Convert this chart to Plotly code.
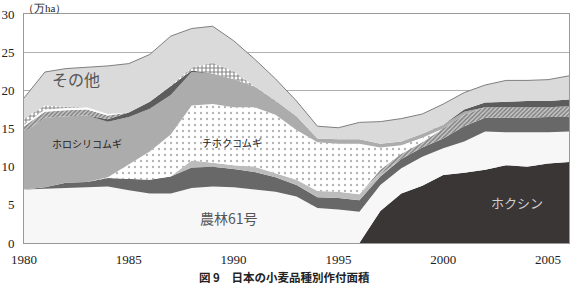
import plotly.graph_objects as go

years = list(range(1980, 2007))

hokushin   = [0]*17 + [4.2, 6.5, 7.5, 8.9, 9.2, 9.6, 10.2, 10.0, 10.4, 10.6]
norin61    = [7.0, 7.1, 7.2, 7.3, 7.4, 6.9, 6.5, 6.5, 7.2, 7.4, 7.3, 7.0, 6.7, 6.1, 4.6, 4.4, 4.1,
              3.4, 3.3, 3.8, 3.5, 4.1, 5.0, 4.3, 4.5, 4.1, 4.0]
dark_a     = [0.0, 0.2, 0.7, 0.7, 1.1, 1.5, 1.8, 2.2, 2.7, 2.6, 2.4, 2.3, 1.9, 1.5, 1.4, 1.5, 1.5,
              1.1, 1.2, 1.2, 1.3, 2.0, 1.8, 1.9, 1.9, 2.0, 1.9]
light_b    = [0, 0, 0, 0, 0, 0, 0, 0, 0.9, 0.5, 0.5, 0.7, 0.6, 0.7, 0.8, 0.8, 0.8,
              0.3, 0, 0, 0, 0, 0, 0, 0, 0, 0]
hatch_late = [0]*17 + [0.6, 0.7, 0.7, 1.3, 1.5, 1.4, 1.4, 1.4, 1.3, 1.4]
chihoku    = [0, 0, 0, 0, 0.1, 1.9, 3.7, 5.5, 7.2, 7.7, 7.6, 7.8, 7.6, 6.5, 6.4, 6.3, 6.6,
              2.9, 1.1, 0.6, 0, 0, 0, 0, 0, 0, 0]
horoshiri  = [7.5, 9.1, 8.7, 8.7, 7.3, 6.2, 5.6, 5.2, 4.4, 4.0, 3.7, 2.7, 1.8, 1.8, 0.5, 0.6, 0.6,
              0.5, 0.5, 0.5, 0.5, 0.4, 0, 0, 0, 0, 0]
dark_c     = [0, 0, 0, 0, 0.3, 0.6, 0.9, 1.2, 0.2, 0, 0, 0, 0, 0, 0, 0, 0,
              0, 0, 0, 0, 0.3, 0.6, 0.7, 0.8, 0.8, 0.9]
hatch_early = [0.8, 0.8, 0.8, 0.8, 0.5] + [0]*22
white_band  = [0.2, 0.3, 0.3, 0.3, 0.2] + [0]*22
cross       = [0.8, 0.5, 0.15, 0, 0, 0, 0, 0, 0.4, 1.4, 1.0, 0.1] + [0]*15
sonota      = [2.7, 4.4, 5.0, 5.2, 6.3, 6.4, 6.2, 6.5, 5.1, 4.8, 4.0, 3.5, 2.9, 2.0, 1.6, 1.5, 2.2,
               2.9, 3.0, 2.6, 2.7, 2.2, 2.3, 2.8, 2.7, 2.8, 3.1]

fig = go.Figure()

def add(name, vals, color=None, pattern=None, line_color=None, line_width=0):
    kw = {}
    if pattern is not None:
        kw["fillpattern"] = pattern
        kw["fillcolor"] = pattern.get("bgcolor", "white")
    else:
        kw["fillcolor"] = color
    fig.add_trace(go.Scatter(
        x=years, y=vals, name=name, mode="lines", stackgroup="one",
        line=dict(width=line_width, color=line_color or "rgba(0,0,0,0)"),
        hoverinfo="x+y+name", **kw))

add("ホクシン", hokushin, "#3b3636")
add("農林61号", norin61, "#f7f7f7")
add("品種A", dark_a, "#686868")
add("品種B", light_b, "#bcbcbc")
add("品種C", hatch_late, pattern=dict(shape="/", fgcolor="#3a3a3a", bgcolor="#c8c8c8", size=3, solidity=0.5))
add("チホクコムギ", chihoku, pattern=dict(shape=".", fgcolor="#6a6a6a", bgcolor="#ffffff", size=6, solidity=0.12))
add("ホロシリコムギ", horoshiri, "#acacac")
add("品種D", dark_c, "#5c5c5c")
add("品種E", hatch_early, pattern=dict(shape="/", fgcolor="#3a3a3a", bgcolor="#c8c8c8", size=3, solidity=0.5))
add("品種F", white_band, "#fbfbfb")
add("品種G", cross, pattern=dict(shape="+", fgcolor="#111111", bgcolor="#ffffff", size=4, solidity=0.5))
add("その他", sonota, "#dadada", line_color="#7f7f7f", line_width=1)

serif = "Liberation Serif, Times New Roman, serif"
jp = "Noto Sans CJK JP"

fig.update_layout(
    width=571, height=284,
    margin=dict(l=22, r=1, t=14, b=41),
    paper_bgcolor="white", plot_bgcolor="white",
    showlegend=False,
    xaxis=dict(range=[1980, 2006], tickmode="array", tickvals=[1980, 1985, 1990, 1995, 2000, 2005],
               showgrid=False, zeroline=False, showline=True, linecolor="#999999", linewidth=1,
               mirror=True, ticks="", tickfont=dict(family=serif, size=13, color="#222"),
               ticklabelstandoff=4),
    yaxis=dict(range=[0, 30], dtick=5, showgrid=True, gridcolor="#b0b0b0", gridwidth=1,
               zeroline=False, showline=True, linecolor="#999999", linewidth=1, mirror=True,
               ticks="", tickfont=dict(family=serif, size=13, color="#222"),
               ticklabelstandoff=6),
)

ann = [
    dict(x=1982.5, y=21.5, text="その他", font=dict(family=jp, size=16, color="#555555")),
    dict(x=1983.0, y=13.0, text="ホロシリコムギ", font=dict(family=jp, size=10, color="#222222")),
    dict(x=1989.9, y=13.2, text="チホクコムギ", font=dict(family=jp, size=10, color="#222222")),
    dict(x=1989.8, y=3.3, text="農林61号", font=dict(family=jp, size=14, color="#555555")),
    dict(x=2003.5, y=5.3, text="ホクシン", font=dict(family=jp, size=13, color="#d0d0d0")),
]
for a in ann:
    fig.add_annotation(xref="x", yref="y", showarrow=False, **a)

fig.add_annotation(xref="paper", yref="paper", x=-0.005, y=1.0, xanchor="left", yanchor="bottom",
                   yshift=-2, text="（万ha）", showarrow=False, font=dict(family=serif, size=11, color="#222"))
fig.add_annotation(xref="paper", yref="paper", x=0.478, y=-0.148, xanchor="center", yanchor="middle",
                   text="<b>図 9　日本の小麦品種別作付面積</b>", showarrow=False,
                   font=dict(family=jp, size=11.5, color="#222"))

fig.write_html("out.html")
